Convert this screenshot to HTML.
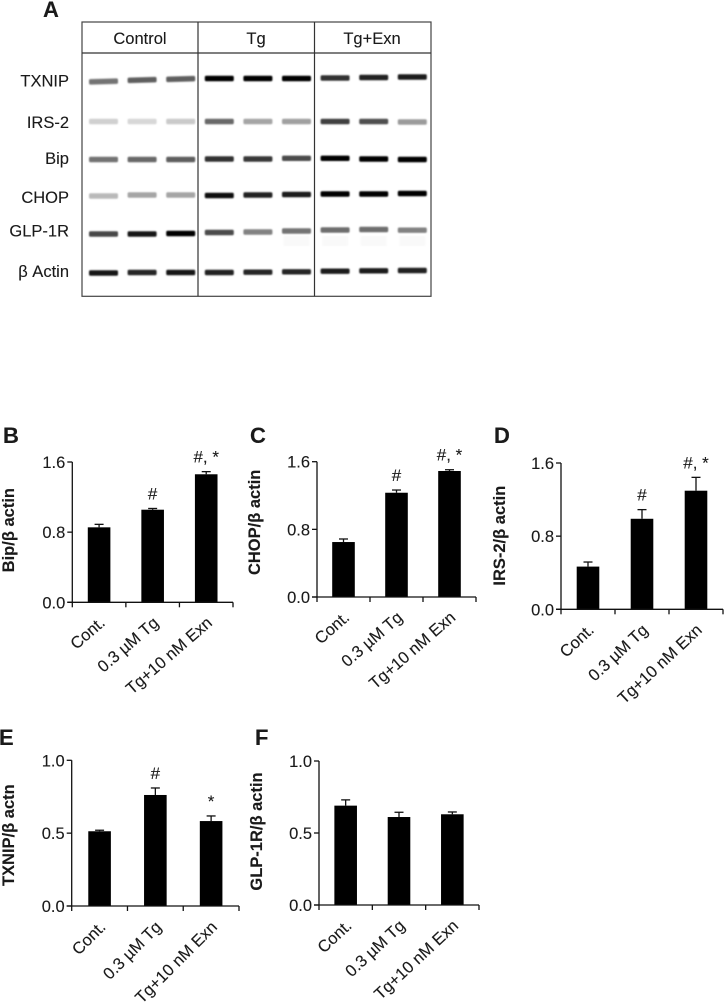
<!DOCTYPE html>
<html lang="en">
<head>
<meta charset="utf-8">
<title>Western blot and densitometry panels</title>
<style>
html,body{margin:0;padding:0;background:#fff;}
body{width:724px;height:1002px;overflow:hidden;}
svg{display:block;}
text{font-family:"Liberation Sans",Arial,sans-serif;fill:#1a1a1a;stroke:#1a1a1a;stroke-width:0.12;}
</style>
</head>
<body>
<svg id="figure" xmlns="http://www.w3.org/2000/svg" width="724" height="1002" viewBox="0 0 724 1002">
  <defs>
    <filter id="band-blur" x="-10%" y="-100%" width="120%" height="300%"><feGaussianBlur stdDeviation="0.8"/></filter>
  </defs>
  <rect width="724" height="1002" fill="#fff"/>
  <text x="43" y="17" font-size="22" font-weight="bold" fill="#111">A</text>
  <g id="blot"></g>
  <g fill="none" stroke="#333" stroke-width="1.2">
    <rect x="82" y="22" width="349" height="274.3" stroke="#444"/>
    <line x1="82" y1="53" x2="431" y2="53"/>
    <line x1="198" y1="22" x2="198" y2="296.3"/>
    <line x1="314.5" y1="22" x2="314.5" y2="296.3"/>
  </g>
  <text x="140" y="44" font-size="16.5" text-anchor="middle">Control</text>
  <text x="256" y="44" font-size="16.5" text-anchor="middle">Tg</text>
  <text x="372" y="44" font-size="16.5" text-anchor="middle">Tg+Exn</text>
  <g id="charts"></g>
</svg>
<script>
// Blot band darkness (0 = black, 255 = white) for each protein, nine lanes
const blotProteins = ['TXNIP', 'IRS-2', 'Bip', 'CHOP', 'GLP-1R', 'β Actin'];
const txnipBands = [115, 95, 95, 0, 5, 5, 50, 35, 30];
const irs2Bands = [208, 215, 202, 105, 165, 160, 65, 80, 155];
const bipBands = [115, 105, 95, 50, 55, 75, 0, 0, 0];
const chopBands = [185, 165, 165, 15, 35, 30, 0, 0, 0];
const glpBands = [70, 20, 0, 75, 130, 115, 110, 110, 130];
const actinBands = [20, 40, 20, 35, 40, 40, 30, 30, 35];

// Bar chart categories and measured values
const categories = ['Cont.', '0.3 µM Tg', 'Tg+10 nM Exn'];
const tickLabelsHigh = ['0.0', '0.8', '1.6'];
const tickValuesHigh = [0, 0.8, 1.6];
const tickLabelsLow = ['0.0', '0.5', '1.0'];
const tickValuesLow = [0, 0.5, 1];

const bipValues = [0.855, 1.056, 1.46];
const bipErrors = [0.034, 0.014, 0.03];
const bipMarks = ['', '#', '#, *'];

const chopValues = [0.65, 1.233, 1.49];
const chopErrors = [0.036, 0.032, 0.015];
const chopMarks = ['', '#', '#, *'];

const irs2Values = [0.467, 0.99, 1.297];
const irs2Errors = [0.05, 0.1, 0.146];
const irs2Marks = ['', '#', '#, *'];

const txnipValues = [0.513, 0.762, 0.583];
const txnipErrors = [0.007, 0.048, 0.035];
const txnipMarks = ['', '#', '*'];

const glpValues = [0.69, 0.611, 0.63];
const glpErrors = [0.04, 0.033, 0.016];
const glpMarks = ['', '', ''];

const NS = 'http://www.w3.org/2000/svg';
function make(tag, attrs, parent, content) {
  const el = document.createElementNS(NS, tag);
  for (const key in attrs) el.setAttribute(key, attrs[key]);
  if (content !== undefined) el.textContent = content;
  parent.appendChild(el);
  return el;
}

/* ---------- Blot ---------- */
const blotRowsGray = [txnipBands, irs2Bands, bipBands, chopBands, glpBands, actinBands];
const blotLabelBaseline = [86.7, 128, 164, 203, 236.7, 277];
const blotRowCenter = [78, 121.5, 159, 194.5, 231.5, 271.5];
const blotRowDrift = [
  [3.5, 2, 1, 0.5, 0.5, 0.5, 0, -0.5, -1],
  [0, 0, 0, 0, 0, 0, 0, 0, 0.5],
  [.5, .5, .5, 0, 0, -.7, -.7, 0, .5],
  [1.5, .5, .5, 1, .5, 0, -.5, -.5, -1],
  [2.5, 2.5, 2, 1, .5, -.5, -1.5, -2, -1.3],
  [1.5, 1, 1, 1, .7, .3, -.3, -.7, -1]
];
const blotRowTilt = [-1.6, 0, 0, 0, 0, 0];
const blot = document.getElementById('blot');
function laneCenter(i) { return 103.5 + i * 38.6; }
blotRowsGray.forEach(function (row, r) {
  const label = make('text', {x: 69, y: blotLabelBaseline[r], 'font-size': 16.5, 'text-anchor': 'end'}, blot, blotProteins[r]);
  
  
  row.forEach(function (gray, i) {
    const y = blotRowCenter[r] + blotRowDrift[r][i];
    const tilt = i < 3 ? blotRowTilt[r] : 0;
    const band = make('rect', {
      x: laneCenter(i) - 14.5, y: y - 2.7, width: 29, height: 5.4, rx: 1.5,
      fill: 'rgb(' + gray + ',' + gray + ',' + gray + ')',
      transform: 'rotate(' + tilt + ' ' + laneCenter(i) + ' ' + y + ')',
      filter: 'url(#band-blur)'
    }, blot);
    
    
  });
});
[5, 6, 7, 8].forEach(function (i) {
  const smear = make('rect', {x: laneCenter(i) - 13, y: 236, width: 26, height: 10, fill: '#f9f9f9', filter: 'url(#band-blur)'}, blot);
  
  
});

/* ---------- Bar charts ---------- */
function drawChart(o) {
  const root = document.getElementById('charts');
  const g = make('g', {}, root);
  
  

  const yScale = function (v) { return o.y0 - (v / o.max) * (o.y0 - o.yTop); };
  const slot = (o.xEnd - o.x0) / o.values.length;
  const xCenter = function (i) { return o.x0 + slot * (i + 0.5) + o.barShift; };

  const letter = make('text', {x: o.letterX, y: o.letterY, 'font-size': 22, 'font-weight': 'bold', fill: '#111'}, g, o.letter);
  
  

  const title = make('text', {
    transform: 'translate(' + o.titleX + ',' + ((o.y0 + o.yTop) / 2 + o.titleDy) + ') rotate(-90)',
    'font-size': 16.5, 'font-weight': 'bold', 'text-anchor': 'middle', fill: '#111'
  }, g, o.title);
  
  

  o.values.forEach(function (v, i) {
    const cx = xCenter(i);
    const errTop = yScale(v + o.errors[i]);
    const stem = make('line', {x1: cx, x2: cx, y1: yScale(v), y2: errTop, stroke: '#111', 'stroke-width': 1.3}, g);
    
    
    const cap = make('line', {x1: cx - 4.5, x2: cx + 4.5, y1: errTop, y2: errTop, stroke: '#111', 'stroke-width': 1.3}, g);
    
    
    const bar = make('rect', {x: cx - 11.3, y: yScale(v), width: 22.6, height: o.y0 - yScale(v), fill: '#000'}, g);
    
    
    if (o.marks[i]) {
      const mark = make('text', {x: cx, y: errTop - 9, 'font-size': 17, 'text-anchor': 'middle'}, g, o.marks[i]);
      
      
    }
    const xt = make('text', {
      transform: 'translate(' + (cx + 7) + ',' + (o.y0 + 22) + ') rotate(' + o.labelAngle + ')',
      'font-size': 16.5, 'text-anchor': 'end'
    }, g, categories[i]);
    
    
  });

  const yAxis = make('line', {x1: o.x0, x2: o.x0, y1: o.yTop, y2: o.y0, stroke: '#111', 'stroke-width': 1.3}, g);
  
  
  const xAxis = make('line', {x1: o.x0 - 5, x2: o.xEnd, y1: o.y0, y2: o.y0, stroke: '#111', 'stroke-width': 1.3}, g);
  
  

  o.tickValues.forEach(function (v, i) {
    const y = yScale(v);
    const tick = make('line', {x1: o.x0 - 5, x2: o.x0, y1: y, y2: y, stroke: '#111', 'stroke-width': 1.3}, g);
    
    
    const lab = make('text', {x: o.x0 - 7, y: y + 6, 'font-size': 16.5, 'text-anchor': 'end'}, g, o.tickLabels[i]);
    
    
  });
  for (let i = 0; i <= o.values.length; i++) {
    const x = o.x0 + slot * i;
    const tick = make('line', {x1: x, x2: x, y1: o.y0, y2: o.y0 + 5, stroke: '#111', 'stroke-width': 1.3}, g);
    
    
  }
}

drawChart({id: 'bip', letter: 'B', letterX: 3, letterY: 443, title: 'Bip/β actin', titleX: 14, titleDy: -2, labelAngle: -41,
  x0: 72.3, xEnd: 233, yTop: 462, y0: 602.3, max: 1.6, barShift: 0,
  tickValues: tickValuesHigh, tickLabels: tickLabelsHigh,
  values: bipValues, errors: bipErrors, marks: bipMarks});
drawChart({id: 'chop', letter: 'C', letterX: 250, letterY: 443, title: 'CHOP/β actin', titleX: 260, titleDy: -7, labelAngle: -41,
  x0: 317, xEnd: 476, yTop: 461.7, y0: 597, max: 1.6, barShift: 0,
  tickValues: tickValuesHigh, tickLabels: tickLabelsHigh,
  values: chopValues, errors: chopErrors, marks: chopMarks});
drawChart({id: 'irs2', letter: 'D', letterX: 494, letterY: 443, title: 'IRS-2/β actin', titleX: 505, titleDy: -0.5, labelAngle: -43,
  x0: 561, xEnd: 723, yTop: 463, y0: 609.3, max: 1.6, barShift: 0,
  tickValues: tickValuesHigh, tickLabels: tickLabelsHigh,
  values: irs2Values, errors: irs2Errors, marks: irs2Marks});
drawChart({id: 'txnip', letter: 'E', letterX: -1, letterY: 745, title: 'TXNIP/β actn', titleX: 14, titleDy: 2, labelAngle: -45,
  x0: 71.7, xEnd: 239, yTop: 760.3, y0: 906, max: 1, barShift: 0,
  tickValues: tickValuesLow, tickLabels: tickLabelsLow,
  values: txnipValues, errors: txnipErrors, marks: txnipMarks});
drawChart({id: 'glp', letter: 'F', letterX: 255, letterY: 745, title: 'GLP-1R/β actin', titleX: 262, titleDy: -1.5, labelAngle: -43,
  x0: 319, xEnd: 479, yTop: 761, y0: 905, max: 1, barShift: 0,
  tickValues: tickValuesLow, tickLabels: tickLabelsLow,
  values: glpValues, errors: glpErrors, marks: glpMarks});
</script>
</body>
</html>
